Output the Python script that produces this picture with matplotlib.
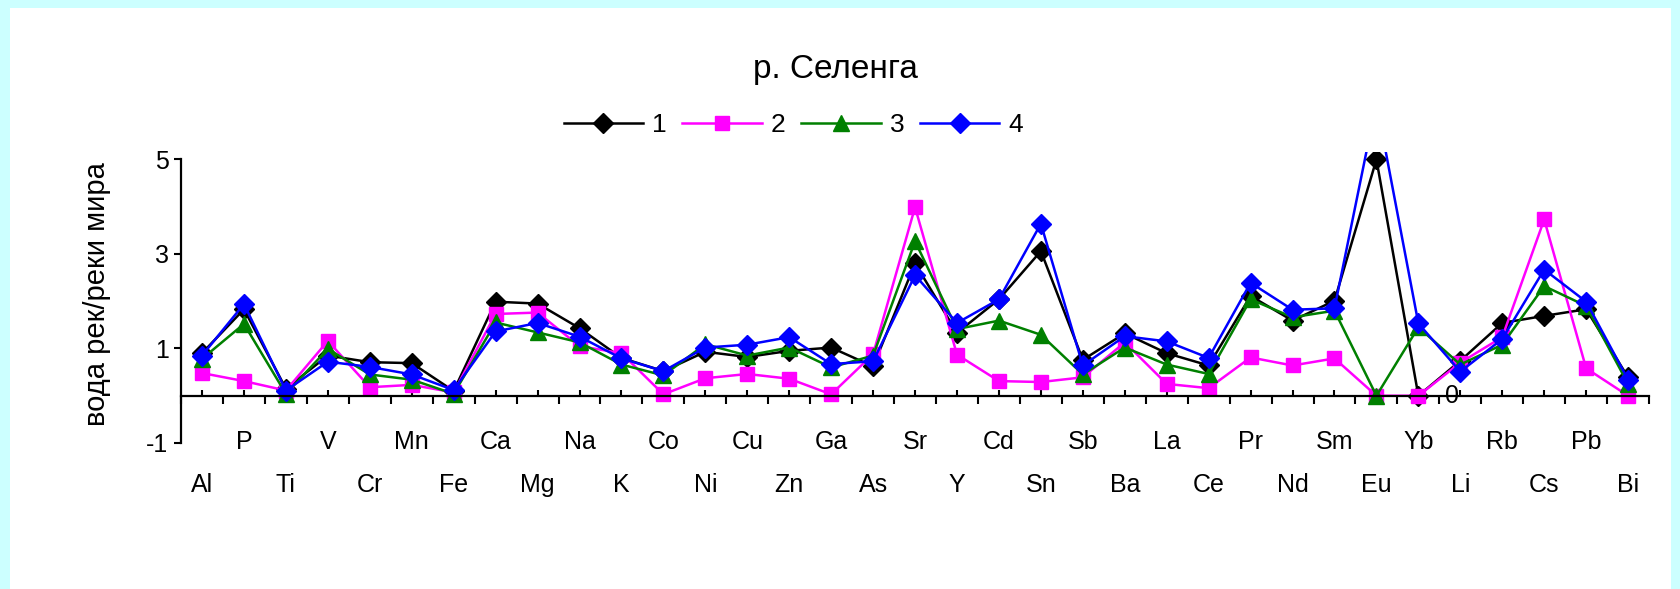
import numpy as np
import matplotlib
matplotlib.use("Agg")
import matplotlib.pyplot as plt
from matplotlib.patches import Rectangle

plt.rcParams['font.family'] = ['Liberation Sans', 'DejaVu Sans']
plt.rcParams['axes.unicode_minus'] = False

# data
elements = ['Al', 'P', 'Ti', 'V', 'Cr', 'Mn', 'Fe', 'Ca', 'Mg', 'Na', 'K', 'Co',
            'Ni', 'Cu', 'Zn', 'Ga', 'As', 'Sr', 'Y', 'Cd', 'Sn', 'Sb', 'Ba', 'La',
            'Ce', 'Pr', 'Nd', 'Sm', 'Eu', 'Yb', 'Li', 'Rb', 'Cs', 'Pb', 'Bi']

s1 = [0.90, 1.83, 0.15, 0.85, 0.71, 0.69, 0.10, 1.99, 1.95, 1.43, 0.80, 0.52,
      0.93, 0.82, 0.95, 1.02, 0.62, 2.80, 1.33, 2.04, 3.06, 0.76, 1.32, 0.90,
      0.64, 2.11, 1.59, 2.01, 5.00, 0.00, 0.74, 1.54, 1.69, 1.83, 0.39]
s2 = [0.48, 0.31, 0.11, 1.16, 0.18, 0.23, 0.07, 1.73, 1.76, 1.05, 0.90, 0.03,
      0.37, 0.46, 0.36, 0.03, 0.88, 3.99, 0.87, 0.31, 0.29, 0.39, 1.13, 0.25,
      0.16, 0.81, 0.64, 0.79, 0.00, 0.00, 0.70, 1.24, 3.73, 0.58, 0.00]
s3 = [0.78, 1.52, 0.04, 0.99, 0.45, 0.34, 0.04, 1.55, 1.34, 1.13, 0.66, 0.43,
      1.09, 0.85, 1.02, 0.60, 0.85, 3.27, 1.41, 1.59, 1.29, 0.45, 1.02, 0.66,
      0.46, 2.04, 1.66, 1.80, 0.00, 1.45, 0.66, 1.08, 2.32, 1.90, 0.25]
s4 = [0.85, 1.94, 0.11, 0.72, 0.61, 0.45, 0.12, 1.36, 1.54, 1.25, 0.79, 0.52,
      1.02, 1.08, 1.24, 0.67, 0.73, 2.55, 1.54, 2.04, 3.64, 0.64, 1.26, 1.15,
      0.80, 2.39, 1.82, 1.85, 6.20, 1.53, 0.51, 1.20, 2.67, 1.99, 0.34]

series = [s1, s2, s3, s4]
names = ['1', '2', '3', '4']
colors = ['black', '#FF00FF', '#008000', '#0000FF']
markers = ['D', 's', '^', 'D']
msizes = [10.5, 10, 11, 10.5]

fig = plt.figure(figsize=(16.81, 5.89), dpi=100, facecolor='#CCFFFF')
bg = Rectangle((10 / 1681, 0), 1 - 20 / 1681, 1 - 8 / 589,
               transform=fig.transFigure, facecolor='white',
               edgecolor='none', zorder=-10)
fig.add_artist(bg)

ax = fig.add_axes([0.1077, 0.2479, 0.8733, 0.4934])
ax.set_facecolor('none')
x = np.arange(len(elements))

handles = []
for vals, name, c, m, ms in zip(series, names, colors, markers, msizes):
    h, = ax.plot(x, vals, color=c, marker=m, markersize=ms, lw=1.8,
                 markeredgecolor=c, label=name)
    handles.append(h)

ax.set_xlim(-0.5, len(elements) - 0.5)
ax.set_ylim(-1, 5.15)

for s in ['top', 'right']:
    ax.spines[s].set_visible(False)
ax.spines['bottom'].set_position(('data', 0))
ax.spines['left'].set_bounds(-1, 5)
ax.spines['left'].set_linewidth(1.6)
ax.spines['bottom'].set_linewidth(1.6)

ax.set_yticks([-1, 1, 3, 5])
ax.tick_params(axis='y', direction='out', length=5, width=1.5, labelsize=18, pad=4)
ax.set_xticks(np.arange(-0.5, len(elements)), minor=False)
ax.set_xticks(x, minor=True)
ax.tick_params(axis='x', which='major', direction='out', length=6, width=1.5,
               labelbottom=False)
ax.tick_params(axis='x', which='minor', direction='in', length=4.5, width=1.5,
               labelbottom=False)

# staggered category labels (Excel style)
trans = ax.get_xaxis_transform()
for i, name in enumerate(elements):
    yy = 0.005 if i % 2 else -0.145
    ax.text(i, yy, name, transform=trans, ha='center', va='center', fontsize=18)

# data label "0"
yb = elements.index('Yb')
ax.text(yb + 0.8, s1[yb], '0', ha='center', va='center', fontsize=18)

fig.text(0.058, 1 - 294 / 589, 'вода рек/реки мира', rotation=90,
         ha='center', va='center', fontsize=21)
fig.text(0.497, 0.882, 'р. Селенга', ha='center', va='center', fontsize=24)

fig.legend(handles=handles, loc='center', bbox_to_anchor=(0.472, 0.788), ncol=4,
           frameon=False, fontsize=19, handlelength=3.0, handletextpad=0.35,
           columnspacing=0.6)

fig.savefig('out.png', dpi=100, facecolor=fig.get_facecolor())
